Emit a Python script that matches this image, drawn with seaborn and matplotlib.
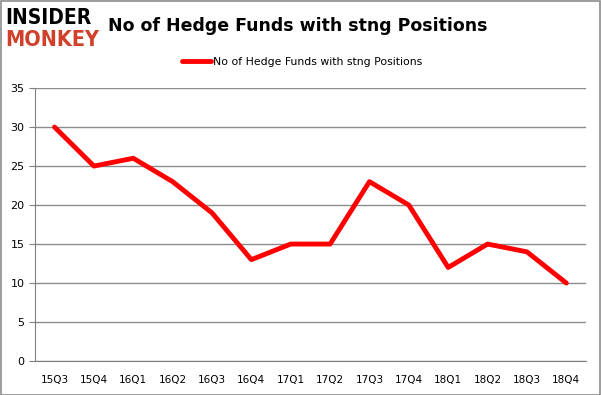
import matplotlib
matplotlib.use("Agg")
import matplotlib.pyplot as plt
import seaborn as sns
import pandas as pd
import numpy as np
from matplotlib.patches import Rectangle

quarters = ["15Q3", "15Q4", "16Q1", "16Q2", "16Q3", "16Q4", "17Q1", "17Q2",
            "17Q3", "17Q4", "18Q1", "18Q2", "18Q3", "18Q4"]
funds = [30, 25, 26, 23, 19, 13, 15, 15, 23, 20, 12, 15, 14, 10]
series_name = "No of Hedge Funds with stng Positions"

df = pd.DataFrame({"pos": np.arange(len(quarters)), "funds": funds})

sns.set_style("white")
plt.rcParams['font.family'] = ['DejaVu Sans']
plt.rcParams['text.color'] = 'black'

fig = plt.figure(figsize=(6.01, 3.95), dpi=100)
ax = fig.add_axes([0.058, 0.086, 0.917, 0.691])

sns.lineplot(data=df, x="pos", y="funds", ax=ax, color="#ff0000", linewidth=3.5,
             label=series_name)

ax.set_xlim(-0.5, len(quarters) - 0.5)
ax.set_ylim(0, 35)
ax.set_yticks(range(0, 36, 5))
ax.set_xticks(df["pos"])
ax.set_xticklabels(quarters)
ax.set_xticks(np.arange(-0.5, len(quarters), 1), minor=True)
ax.tick_params(axis="x", which="major", length=0, pad=10, labelsize=7.5, labelcolor="black")
ax.tick_params(axis="x", which="minor", length=4, color="#808080", direction="out")
ax.tick_params(axis="y", length=4, color="#808080", labelsize=8, left=True, labelcolor="black")
ax.set_xlabel("")
ax.set_ylabel("")
ax.yaxis.grid(True, color="#8c8c8c", linewidth=1)
for s in ["top", "right"]:
    ax.spines[s].set_visible(False)
ax.spines["left"].set_color("#808080")
ax.spines["bottom"].set_color("#808080")

leg = ax.legend(loc="center", bbox_to_anchor=(0.485, 1.095), frameon=False,
                fontsize=7.8, handlelength=2.6, handletextpad=0.2)
for t in leg.get_texts():
    t.set_color("black")

fig.text(0.18, 0.935, series_name, fontsize=12.5, fontweight="bold", va="center", color="black")
fig.text(0.008, 0.955, "INSIDER", fontsize=15, fontweight="heavy", color="black",
         va="center", fontstretch="condensed")
fig.text(0.008, 0.898, "MONKEY", fontsize=15.5, fontweight="heavy", color="#d0402a",
         va="center", fontstretch="condensed")

fig.patches.append(Rectangle((0.001, 0.001), 0.997, 0.997, transform=fig.transFigure,
                             fill=False, edgecolor="#8c8c8c", linewidth=1.2))

fig.savefig("out.png", dpi=100)
